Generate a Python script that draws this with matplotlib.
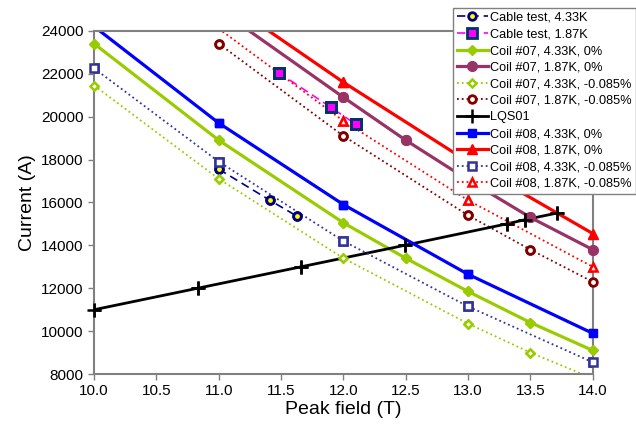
import numpy as np
import matplotlib
matplotlib.use('Agg')
import matplotlib.pyplot as plt

plt.rcParams.update({
    'font.family': ['Liberation Sans', 'DejaVu Sans'],
    'axes.edgecolor': '#808080',
    'xtick.color': '#808080',
    'ytick.color': '#808080',
    'xtick.labelcolor': 'black',
    'ytick.labelcolor': 'black',
})

# ── Data ───────────────────────────────────────────────────────────
cable_433_x = [11.0, 11.41, 11.63]
cable_433_y = [17550, 16100, 15350]

cable_187_x = [11.48, 11.90, 12.10]
cable_187_y = [22050, 20430, 19640]

c07_433_0_x = [10.0, 11.0, 12.0, 12.5, 13.0, 13.5, 14.0]
c07_433_0_y = [23400, 18900, 15050, 13400, 11850, 10400, 9100]

c07_187_0_x = [11.0, 12.0, 12.5, 13.0, 13.5, 14.0]
c07_187_0_y = [25000, 20900, 18900, 17050, 15300, 13800]

c07_433_s_x = [10.0, 11.0, 12.0, 13.0, 13.5, 14.0]
c07_433_s_y = [21450, 17100, 13400, 10350, 9000, 7800]

c07_187_s_x = [11.0, 12.0, 13.0, 13.5, 14.0]
c07_187_s_y = [23400, 19100, 15400, 13800, 12300]

lqs_x = [10.0, 10.83, 11.66, 12.49, 13.31, 13.46, 13.71]
lqs_y = [11000, 12000, 13000, 14000, 15000, 15200, 15500]

c08_433_0_x = [10.0, 11.0, 12.0, 13.0, 14.0]
c08_433_0_y = [24200, 19700, 15900, 12650, 9900]

c08_187_0_x = [11.0, 12.0, 13.0, 14.0]
c08_187_0_y = [25600, 21600, 17900, 14550]

c08_433_s_x = [10.0, 11.0, 12.0, 13.0, 14.0]
c08_433_s_y = [22250, 17900, 14200, 11150, 8550]

c08_187_s_x = [11.0, 12.0, 13.0, 14.0]
c08_187_s_y = [24100, 19800, 16100, 13000]

XMIN, XMAX, YMIN, YMAX = 10.0, 14.0, 8000, 24000

GREEN = '#99CC00'
PLUM = '#993366'
MAROON = '#800000'
INDIGO = '#333399'

fig = plt.figure(figsize=(6.36, 4.28), dpi=100)
ax = fig.add_axes([0.148, 0.126, 0.784, 0.802])


def series(x, y, ls, color, lw, label, **mk):
    # line clipped to the axes; markers only for points inside, drawn whole
    x = np.asarray(x)
    y = np.asarray(y)
    keep = (x >= XMIN) & (x <= XMAX) & (y >= YMIN) & (y <= YMAX)
    idx = list(np.nonzero(keep)[0])
    ax.plot(x, y, ls=ls, color=color, lw=lw, label=label, markevery=idx, **mk)
    ax.plot(x[keep], y[keep], ls='none', color=color, clip_on=False, zorder=3, **mk)


series(cable_433_x, cable_433_y, (0, (5, 3)), '#000080', 1.2, 'Cable test, 4.33K',
       marker='o', ms=5.5, mfc='#FFFF00', mec='#000080', mew=2)
series(cable_187_x, cable_187_y, (0, (5, 3)), '#FF00FF', 1.2, 'Cable test, 1.87K',
       marker='s', ms=6.5, mfc='#FF00FF', mec='#003366', mew=2)
series(c07_433_0_x, c07_433_0_y, '-', GREEN, 2.3, 'Coil #07, 4.33K, 0%',
       marker='D', ms=5.5, mfc=GREEN, mec=GREEN)
series(c07_187_0_x, c07_187_0_y, '-', PLUM, 2.3, 'Coil #07, 1.87K, 0%',
       marker='o', ms=7, mfc=PLUM, mec=PLUM)
series(c07_433_s_x, c07_433_s_y, ':', GREEN, 1.3, 'Coil #07, 4.33K, -0.085%',
       marker='D', ms=4.5, mfc='white', mec=GREEN, mew=1.8)
series(c07_187_s_x, c07_187_s_y, ':', MAROON, 1.3, 'Coil #07, 1.87K, -0.085%',
       marker='o', ms=5.5, mfc='white', mec=MAROON, mew=2)
series(lqs_x, lqs_y, '-', 'black', 2, 'LQS01',
       marker='+', ms=10, mew=1.8)
series(c08_433_0_x, c08_433_0_y, '-', '#0000FF', 2.3, 'Coil #08, 4.33K, 0%',
       marker='s', ms=6, mfc='#0000FF', mec='#0000FF')
series(c08_187_0_x, c08_187_0_y, '-', '#FF0000', 2.3, 'Coil #08, 1.87K, 0%',
       marker='^', ms=7, mfc='#FF0000', mec='#FF0000')
series(c08_433_s_x, c08_433_s_y, ':', INDIGO, 1.3, 'Coil #08, 4.33K, -0.085%',
       marker='s', ms=5.5, mfc='white', mec=INDIGO, mew=1.8)
series(c08_187_s_x, c08_187_s_y, ':', '#FF0000', 1.3, 'Coil #08, 1.87K, -0.085%',
       marker='^', ms=6, mfc='white', mec='#FF0000', mew=1.8)

ax.set_xlim(XMIN, XMAX)
ax.set_ylim(YMIN, YMAX)
xt = np.arange(10.0, 14.01, 0.5)
ax.set_xticks(xt)
ax.set_xticklabels([f'{v:.1f}' for v in xt])
ax.set_yticks(np.arange(8000, 24001, 2000))
ax.tick_params(direction='out', length=4, width=1, labelsize=11)
for s in ax.spines.values():
    s.set_linewidth(1.5)

ax.set_xlabel('Peak field (T)', fontsize=14, labelpad=2)
ax.set_ylabel('Current (A)', fontsize=14, labelpad=4)

leg = fig.legend(loc='upper left', bbox_to_anchor=(453 / 636, 1 - 8 / 428),
                 fontsize=9.2, frameon=True, fancybox=False, framealpha=1,
                 edgecolor='#808080', handlelength=2.4, handletextpad=0.2,
                 labelspacing=0.36, borderpad=0.3, borderaxespad=0)
leg.get_frame().set_linewidth(1.0)
leg.set_zorder(10)

fig.savefig('out.png', dpi=100)
